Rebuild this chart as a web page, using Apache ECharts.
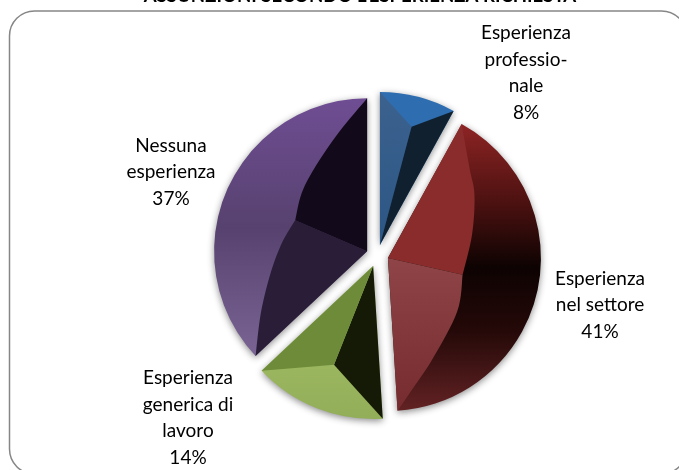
<!DOCTYPE html>
<html>
<head>
<meta charset="utf-8">
<style>
  html, body { margin: 0; padding: 0; background: #fff; }
  #chart { width: 679px; height: 470px; }
</style>
<script src="https://cdn.jsdelivr.net/npm/echarts@6/dist/echarts.min.js"></script>
</head>
<body>
<div id="chart"></div>
<script>
const categories = [
  "Esperienza\nprofessio-\nnale",
  "Esperienza\nnel settore",
  "Esperienza\ngenerica di\nlavoro",
  "Nessuna\nesperienza",
];
const shares = [8, 41, 14, 37];

// pie geometry, shared by the pie and the bevel overlay
const CX = 377.2;
const CY = 255.7;
const RADIUS = 153;
const EXPLODE = 11;

// label centres, same order as categories
const labelSpots = [[526, 73], [600, 305], [188, 418], [171, 172]];

const vertical = (stops) => ({
  type: "linear", x: 0, y: 0, x2: 0, y2: 1,
  colorStops: stops.map((s) => ({ offset: s[0], color: s[1] })),
});

const baseColors = [
  "#2e6db0",
  vertical([[0, "#8e2424"], [0.28, "#4a1110"], [0.5, "#0d0302"], [0.72, "#240908"], [1, "#632224"]]),
  vertical([[0, "#a8c56c"], [1, "#93ae58"]]),
  vertical([[0, "#6f4d93"], [0.5, "#57426f"], [1, "#7a6494"]]),
];

// bevel facets per slice, as [fraction of the slice angle, fraction of the radius]
// curved: the edge after the tip runs smoothly through the listed points
const facets = [
  [
    { fill: vertical([[0, "#3c628f"], [1, "#2c5684"]]), pts: [[0, 0], [0, 1], [0.52, 0.8]] },
    { fill: "#10202f", pts: [[0, 0], [0.52, 0.8], [1, 1]] },
  ],
  [
    { fill: "#8a2c2c", curved: true, pts: [[0, 0], [0, 1], [0.09, 0.795], [0.17, 0.7], [0.31, 0.57], [0.5, 0.5]] },
    { fill: vertical([[0, "#8f4547"], [1, "#762c2e"]]), curved: true, pts: [[0, 0], [0.5, 0.5], [0.67, 0.572], [0.86, 0.717], [0.95, 0.865], [1, 1]] },
  ],
  [
    { fill: "#141a06", pts: [[0, 0], [0.5, 0.695], [0, 1]] },
    { fill: "#6e8b3a", pts: [[0, 0], [1, 1], [0.5, 0.695]] },
  ],
  [
    { fill: "#2a1d38", curved: true, pts: [[0, 0], [0, 1], [0.1, 0.8], [0.233, 0.643], [0.37, 0.558], [0.5, 0.512]] },
    { fill: "#120a1a", curved: true, pts: [[0, 0], [0.5, 0.512], [0.64, 0.574], [0.77, 0.653], [0.9, 0.8], [1, 1]] },
  ],
];

const total = shares.reduce((a, b) => a + b, 0);

// slice angles in radians, clockwise from the top
function sliceRange(idx) {
  let before = 0;
  for (let i = 0; i < idx; i++) before += shares[i];
  return [before / total * Math.PI * 2, (before + shares[idx]) / total * Math.PI * 2];
}

// catmull-rom through a run of points
function smooth(points) {
  const out = [points[0]];
  for (let i = 0; i < points.length - 1; i++) {
    const p0 = points[Math.max(i - 1, 0)];
    const p1 = points[i];
    const p2 = points[i + 1];
    const p3 = points[Math.min(i + 2, points.length - 1)];
    for (let s = 1; s <= 8; s++) {
      const t = s / 8;
      const q = [0, 1].map((k) => 0.5 * (2 * p1[k] + (p2[k] - p0[k]) * t +
        (2 * p0[k] - 5 * p1[k] + 4 * p2[k] - p3[k]) * t * t +
        (3 * p1[k] - p0[k] - 3 * p2[k] + p3[k]) * t * t * t));
      out.push(q);
    }
  }
  return out;
}

function renderBevel(params) {
  const idx = params.dataIndex;
  const range = sliceRange(idx);
  const span = range[1] - range[0];
  const mid = range[0] + span / 2;
  const tipX = CX + EXPLODE * Math.sin(mid);
  const tipY = CY - EXPLODE * Math.cos(mid);

  const children = facets[idx].map((f) => {
    let points = f.pts.map((p) => {
      const a = range[0] + p[0] * span;
      return [tipX + p[1] * RADIUS * Math.sin(a), tipY - p[1] * RADIUS * Math.cos(a)];
    });
    if (f.curved) points = [points[0]].concat(smooth(points.slice(1)));
    return {
      type: "polygon",
      shape: { points: points },
      style: { fill: f.fill },
      silent: true,
    };
  });

  // the slice's label
  children.push({
    type: "text",
    silent: true,
    style: {
      text: categories[idx] + "\n" + shares[idx] + "%",
      x: labelSpots[idx][0],
      y: labelSpots[idx][1],
      align: "center",
      verticalAlign: "middle",
      fontFamily: "Lato",
      fontSize: 19,
      lineHeight: 26.5,
      fill: "#000",
    },
  });
  return { type: "group", children: children };
}

const chart = echarts.init(document.getElementById("chart"));

const option = {
  animation: false,
  title: {
    text: "ASSUNZIONI SECONDO L'ESPERIENZA RICHIESTA",
    left: 355,
    top: -19,
    textAlign: "center",
    textStyle: { fontFamily: "Lato", fontSize: 18.6, fontWeight: "bold", color: "#000" },
  },
  graphic: [
    {
      type: "rect",
      silent: true,
      shape: { x: 9.5, y: 11, width: 677, height: 463, r: 25 },
      style: { fill: "none", stroke: "#868686", lineWidth: 1.5 },
    },
  ],
  series: [
    {
      type: "pie",
      center: [CX, CY],
      radius: [0, RADIUS],
      startAngle: 90,
      clockwise: true,
      selectedMode: "multiple",
      selectedOffset: EXPLODE,
      data: categories.map((name, i) => ({
        name: name,
        value: shares[i],
        selected: true,
        itemStyle: { color: baseColors[i] },
      })),
      itemStyle: {
        shadowBlur: 7,
        shadowColor: "rgba(0, 0, 0, 0.45)",
        shadowOffsetY: 2,
      },
      label: { show: false },
      labelLine: { show: false },
      emphasis: { disabled: true },
    },
    {
      type: "custom",
      coordinateSystem: "none",
      z: 5,
      silent: true,
      renderItem: renderBevel,
      data: shares,
    },
  ],
};

chart.setOption(option);
</script>
</body>
</html>
